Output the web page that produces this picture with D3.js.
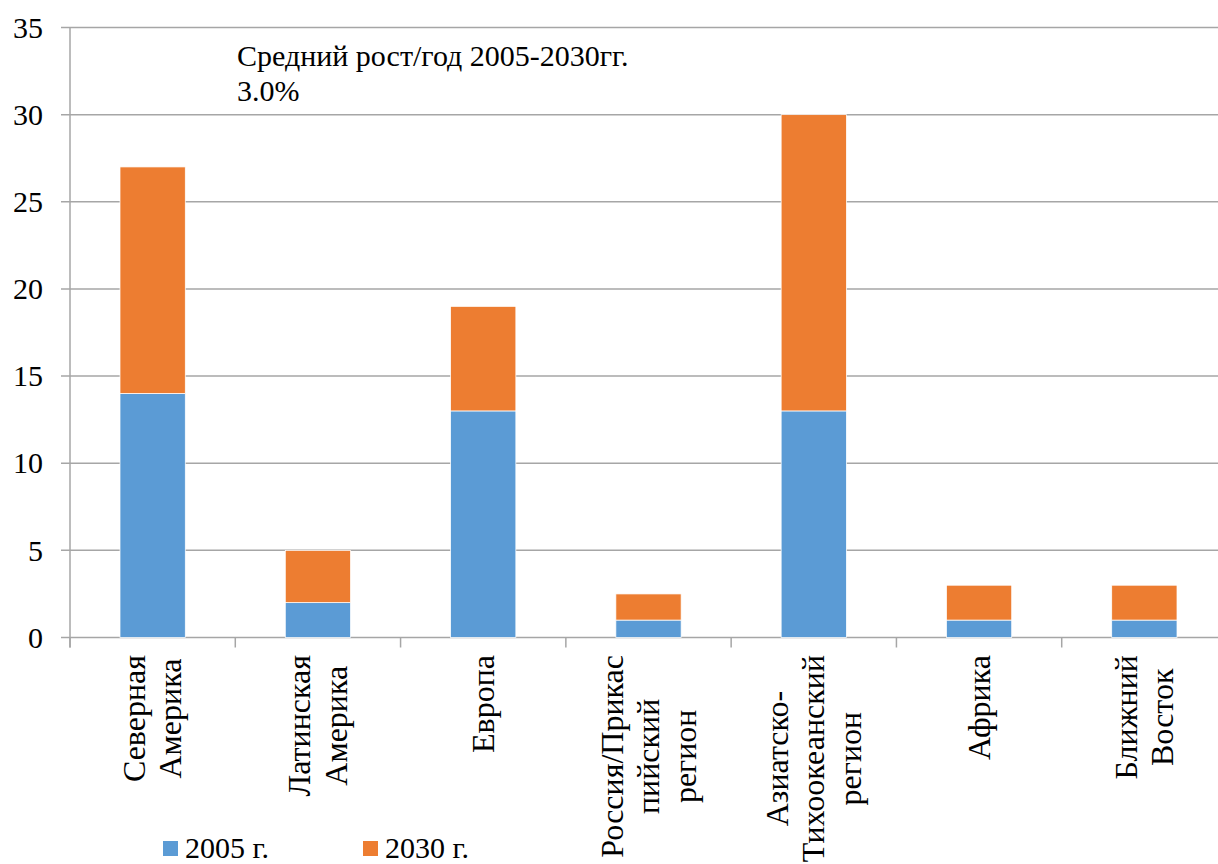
<!DOCTYPE html>
<html>
<head>
<meta charset="utf-8">
<script src="https://cdn.jsdelivr.net/npm/d3@7"></script>
<style>
  body { margin: 0; background: #fff; }
  svg { display: block; }
</style>
</head>
<body>
<div id="chart"></div>
<script>
// данные
const regions = [
  ["Северная", "Америка"],
  ["Латинская", "Америка"],
  ["Европа"],
  ["Россия/Прикас", "пийский", "регион"],
  ["Азиатско-", "Тихоокеанский", "регион"],
  ["Африка"],
  ["Ближний", "Восток"]
];
const values2005 = [14, 2, 13, 1, 13, 1, 1];
const values2030 = [13, 3, 6, 1.5, 17, 2, 2];
const seriesNames = ["2005 г.", "2030 г."];
const colors = ["#5B9BD5", "#ED7D31"];
const yTicks = [0, 5, 10, 15, 20, 25, 30, 35];
const noteLines = ["Средний рост/год 2005-2030гг.", "3.0%"];

// ищем установленный шрифт с засечками
function pickSerif() {
  const candidates = ["Liberation Serif", "Times New Roman", "Tinos", "DejaVu Serif", "Noto Serif", "FreeSerif", "Nimbus Roman"];
  const ctx = document.createElement("canvas").getContext("2d");
  const sample = "Средний рост 2005 mmmWWlli";
  const base = ["monospace", "sans-serif"].map(f => {
    ctx.font = `40px ${f}`;
    return ctx.measureText(sample).width;
  });
  for (const c of candidates) {
    const found = ["monospace", "sans-serif"].some((f, i) => {
      ctx.font = `40px "${c}", ${f}`;
      return Math.abs(ctx.measureText(sample).width - base[i]) > 0.5;
    });
    if (found) return c;
  }
  return null;
}
const serif = pickSerif();
const fontFamily = serif ? `"${serif}", serif` : "serif";

const width = 1218;
const height = 864;
const plotLeft = 70, plotRight = 1227, plotTop = 27.5, plotBottom = 637.5;

const svg = d3.select("#chart").append("svg")
  .attr("width", width)
  .attr("height", height)
  .style("font-family", fontFamily);

const x = d3.scaleBand()
  .domain(d3.range(regions.length))
  .range([plotLeft, plotRight])
  .paddingInner(0.605)
  .paddingOuter(0.3025);

const y = d3.scaleLinear()
  .domain([0, 35])
  .range([plotBottom, plotTop]);

const step = x.step();

// сетка
svg.append("g")
  .selectAll("line")
  .data(yTicks)
  .join("line")
  .attr("x1", plotLeft - 9)
  .attr("x2", width)
  .attr("y1", d => y(d))
  .attr("y2", d => y(d))
  .attr("stroke", "#a6a6a6")
  .attr("stroke-width", 1.5);

// ось Y
svg.append("line")
  .attr("x1", plotLeft).attr("x2", plotLeft)
  .attr("y1", plotTop).attr("y2", plotBottom + 10)
  .attr("stroke", "#a6a6a6")
  .attr("stroke-width", 1.5);

svg.append("g")
  .selectAll("text")
  .data(yTicks)
  .join("text")
  .attr("x", 43)
  .attr("y", d => y(d))
  .attr("dy", "0.34em")
  .attr("text-anchor", "end")
  .style("font-size", "30px")
  .text(d => d);

// деления по X
svg.append("g")
  .selectAll("line")
  .data(d3.range(regions.length + 1))
  .join("line")
  .attr("x1", i => plotLeft + i * step)
  .attr("x2", i => plotLeft + i * step)
  .attr("y1", plotBottom)
  .attr("y2", plotBottom + 10)
  .attr("stroke", "#a6a6a6")
  .attr("stroke-width", 1.5);

// столбцы
const stacked = d3.stack().keys([0, 1])(values2005.map((v, i) => [v, values2030[i]]));

svg.append("g")
  .selectAll("g")
  .data(stacked)
  .join("g")
  .attr("fill", (d, i) => colors[i])
  .selectAll("rect")
  .data(d => d)
  .join("rect")
  .attr("x", (d, i) => x(i))
  .attr("width", x.bandwidth())
  .attr("y", d => y(d[1]))
  .attr("height", d => y(d[0]) - y(d[1]))
  .attr("stroke", "#fff")
  .attr("stroke-width", 0.75);

// подписи категорий
const lineH = 36.5;
const labels = svg.append("g")
  .selectAll("g")
  .data(regions)
  .join("g")
  .style("font-size", "32px");

labels.each(function (lines, i) {
  const g = d3.select(this);
  const texts = g.selectAll("text")
    .data(lines)
    .join("text")
    .attr("text-anchor", "middle")
    .attr("x", 0)
    .attr("y", (d, j) => (j - (lines.length - 1) / 2) * lineH)
    .attr("dy", "0.33em")
    .text(d => d);
  let maxW = 0;
  texts.each(function () { maxW = Math.max(maxW, this.getComputedTextLength()); });
  const cx = x(i) + x.bandwidth() / 2;
  g.attr("transform", `translate(${cx}, ${655 + maxW / 2}) rotate(-90)`);
});

// примечание
svg.append("g")
  .selectAll("text")
  .data(noteLines)
  .join("text")
  .attr("x", 237)
  .attr("y", (d, i) => 66 + i * 35)
  .style("font-size", "30px")
  .text(d => d);

// легенда
const legendX = [163, 363];
const legend = svg.append("g")
  .selectAll("g")
  .data(seriesNames)
  .join("g")
  .attr("transform", (d, i) => `translate(${legendX[i]}, 841)`);

legend.append("rect")
  .attr("width", 15)
  .attr("height", 15)
  .attr("fill", (d, i) => colors[i]);

legend.append("text")
  .attr("x", 22)
  .attr("y", 17)
  .style("font-size", "30px")
  .text(d => d);
</script>
</body>
</html>
